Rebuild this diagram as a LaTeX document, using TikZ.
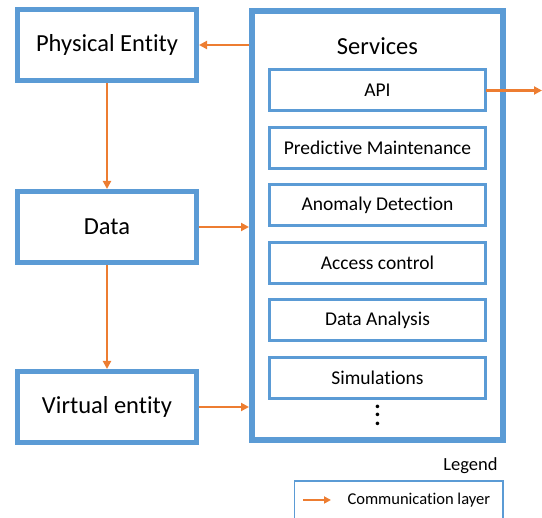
\documentclass[tikz,border=0pt]{standalone}
\usepackage{fontspec}
\setmainfont{Carlito}[Ligatures=NoCommon]
\usepackage{tikz}
\usetikzlibrary{
  arrows.meta,
  positioning,
  calc
}
\definecolor{dtBlue}{HTML}{5B9BD5}
\definecolor{dtOrange}{HTML}{ED7D31}
\tikzset{
  dtnode/.style={
    draw=dtBlue, line width=5pt, fill=white, minimum width=179pt,
    minimum height=71pt, font=\fontsize{24.5}{28}\selectfont, align=center
  },
  srvbox/.style={draw=dtBlue, line width=6pt, minimum width=251pt, minimum height=429pt},
  srvitem/.style={
    draw=dtBlue, line width=3pt, minimum width=216pt, minimum height=41pt,
    outer sep=0pt, font=\fontsize{19.5}{22}\selectfont
  },
  comm/.style={-{Triangle[length=8pt,width=8pt]}, line width=2.5pt, dtOrange},
  legendbox/.style={draw=dtBlue, line width=1.2pt}
}
\begin{document}
\begin{tikzpicture}[x=1pt,y=-1pt]
  \useasboundingbox (0,0) rectangle (542,518);
  \clip (0,0) rectangle (542,518);
  % left column
  \node[dtnode] (phys) at (107,45) {Physical Entity};
  \node[dtnode] (data) at (107,227) {Data};
  \node[dtnode] (virt) at (107,407) {Virtual entity};
  % services
  \node[srvbox] (serv) at (377.5,225.5) {};
  \node[font=\fontsize{24.5}{28}\selectfont] (servt) at (377.5,46) {Services};
  \node[srvitem] (api) at (377.5,90.5) {API};
  \node[srvitem, below=16.5pt of api] (pm) {Predictive Maintenance};
  \node[srvitem, below=16.5pt of pm] (ad) {Anomaly Detection};
  \node[srvitem, below=16.5pt of ad] (ac) {Access control};
  \node[srvitem, below=16.5pt of ac] (da) {Data Analysis};
  \node[srvitem, below=16.5pt of da] (sim) {Simulations};
  \node[font=\fontsize{24}{8.5}\selectfont\bfseries, align=center, inner sep=0pt]
    (dots) at (377.5,415) {.\\.\\.};
  \coordinate (out) at (542,90.5);
  % connectors
  \draw[comm] (serv.west |- phys.east) -- (phys.east);
  \draw[comm] (phys.south) -- (data.north);
  \draw[comm] (data.east) -- (serv.west |- data.east);
  \draw[comm] (data.south) -- (virt.north);
  \draw[comm] (virt.east) -- (serv.west |- virt.east);
  \draw[comm] (api.east) -- (out);
  % legend
  \node[anchor=east, font=\fontsize{18.5}{21}\selectfont] (legt) at (501,466) {Legend};
  \draw[legendbox] (294.5,481) rectangle (503,530);
  \coordinate (lga) at (303,500);
  \coordinate (lgb) at (331,500);
  \draw[comm, line width=2pt, -{Triangle[length=7pt,width=7pt]}] (lga) -- (lgb);
  \node[anchor=west, font=\fontsize{16.5}{19}\selectfont] (legc) at (344,500) {Communication layer};
\end{tikzpicture}
\end{document}
